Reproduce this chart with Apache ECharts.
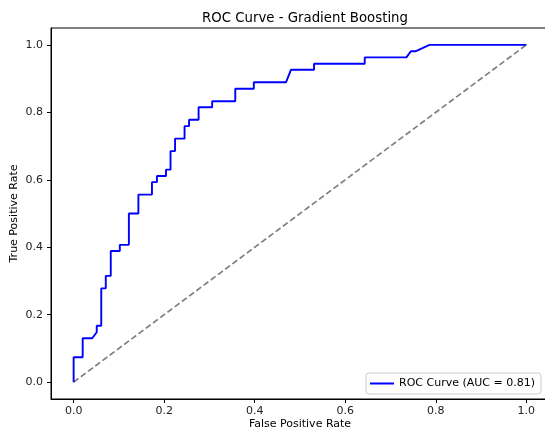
<!DOCTYPE html>
<html>
<head>
<meta charset="utf-8">
<script src="https://cdn.jsdelivr.net/npm/echarts@6/dist/echarts.min.js"></script>
<style>
  html, body { margin: 0; padding: 0; background: #fff; }
  #chart { width: 545px; height: 434px; }
</style>
</head>
<body>
<div id="chart"></div>
<script>
// ROC curve points
var fpr = [0, 0, 0.020, 0.020, 0.041, 0.051, 0.051, 0.061, 0.061, 0.071, 0.071, 0.082, 0.082,
  0.102, 0.102, 0.122, 0.122, 0.143, 0.143, 0.173, 0.173, 0.184, 0.184, 0.204, 0.204,
  0.214, 0.214, 0.224, 0.224, 0.245, 0.245, 0.255, 0.255, 0.276, 0.276, 0.306, 0.306,
  0.357, 0.357, 0.398, 0.398, 0.469, 0.480, 0.531, 0.531, 0.643, 0.643, 0.735, 0.745,
  0.755, 0.786, 1.0];
var tpr = [0, 0.074, 0.074, 0.130, 0.130, 0.148, 0.167, 0.167, 0.278, 0.278, 0.315, 0.315, 0.389,
  0.389, 0.407, 0.407, 0.500, 0.500, 0.556, 0.556, 0.593, 0.593, 0.611, 0.611, 0.630,
  0.630, 0.685, 0.685, 0.722, 0.722, 0.759, 0.759, 0.778, 0.778, 0.815, 0.815, 0.833,
  0.833, 0.870, 0.870, 0.889, 0.889, 0.926, 0.926, 0.944, 0.944, 0.963, 0.963, 0.981,
  0.981, 1.0, 1.0];
var chanceX = [0, 1];
var chanceY = [0, 1];
var tickVals = [0, 0.2, 0.4, 0.6, 0.8, 1.0];
var aucLabel = 'ROC Curve (AUC = 0.81)';

var rocData = fpr.map(function (x, i) { return [x, tpr[i]]; });
var chanceData = chanceX.map(function (x, i) { return [x, chanceY[i]]; });

var font = 'DejaVu Sans';
var chart = echarts.init(document.getElementById('chart'));

function axisBase(name, gap) {
  return {
    type: 'value',
    min: -0.05,
    max: 1.05,
    name: name,
    nameLocation: 'middle',
    nameGap: gap,
    nameMoveOverlap: false,
    nameTextStyle: { fontFamily: font, fontSize: 11, color: '#000' },
    axisLine: { show: true, onZero: false, lineStyle: { color: '#000', width: 1 } },
    axisTick: { show: true, length: 4, customValues: tickVals, lineStyle: { color: '#000', width: 1 } },
    axisLabel: {
      customValues: tickVals,
      fontFamily: font, fontSize: 11, color: '#222', margin: 7,
      formatter: function (v) { return v.toFixed(1); }
    },
    splitLine: { show: false }
  };
}

var xAx = axisBase('False Positive Rate', 20);
var yAx = axisBase('True Positive Rate', 31);
yAx.axisLabel.margin = 8;

var option = {
  animation: false,
  backgroundColor: '#fff',
  title: {
    text: 'ROC Curve - Gradient Boosting',
    left: 300,
    textAlign: 'center',
    top: 7,
    textStyle: { fontFamily: font, fontSize: 13.3, fontWeight: 'normal', color: '#000' }
  },
  grid: {
    left: 51, top: 28, width: 498, height: 371,
    containLabel: false,
    outerBoundsMode: 'none',
    show: true, borderColor: '#000', borderWidth: 1
  },
  legend: {
    left: 366, top: 373,
    data: [aucLabel],
    icon: 'rect', itemWidth: 24, itemHeight: 2,
    padding: [5, 6, 5, 4],
    itemGap: 8,
    borderColor: '#ccc', borderWidth: 1, borderRadius: 3,
    backgroundColor: 'rgba(255,255,255,0.8)',
    textStyle: { fontFamily: font, fontSize: 11, color: '#000' }
  },
  xAxis: xAx,
  yAxis: yAx,
  series: [
    {
      name: 'chance',
      type: 'line',
      data: chanceData,
      symbol: 'none',
      lineStyle: { color: '#808080', width: 1.7, type: [6, 3] },
      z: 2
    },
    {
      name: aucLabel,
      type: 'line',
      data: rocData,
      symbol: 'none',
      itemStyle: { color: '#0000ff' },
      lineStyle: { color: '#0000ff', width: 1.9 },
      z: 3
    }
  ]
};

chart.setOption(option);

window.addEventListener('resize', function () {
  chart.resize();
});
</script>
</body>
</html>
